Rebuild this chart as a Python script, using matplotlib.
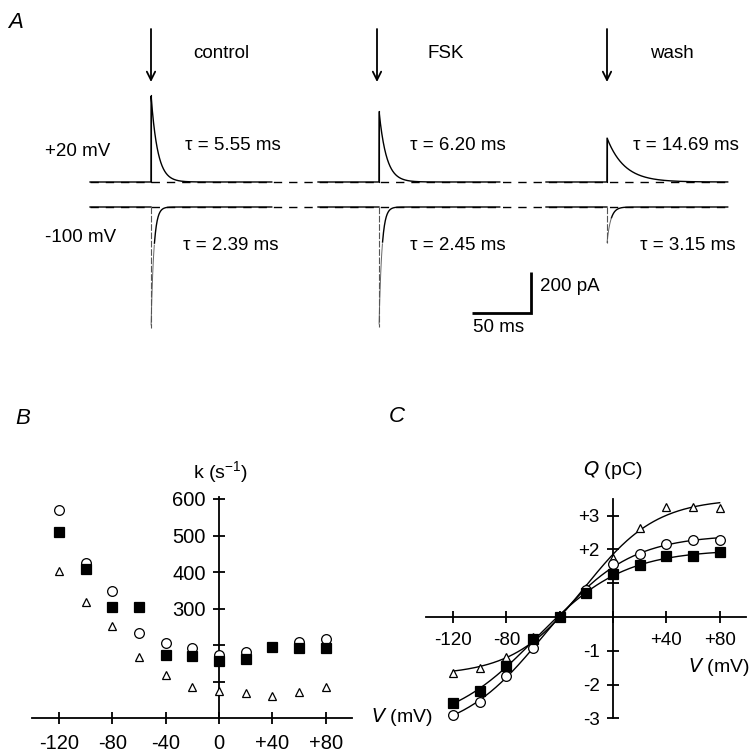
import numpy as np
import matplotlib
matplotlib.use("Agg")
import matplotlib.pyplot as plt

plt.rcParams['font.family'] = ['Liberation Sans', 'DejaVu Sans']
plt.rcParams['mathtext.default'] = 'regular'

W, H = 753, 756
fig = plt.figure(figsize=(W / 100, H / 100), dpi=100)

# ---------------- data ----------------
# Panel A: conditions, time constants (ms), peak amplitudes (pA)
conditions = ["control", "FSK", "wash"]
tau_pos = [5.55, 6.20, 14.69]      # +20 mV
tau_neg = [2.39, 2.45, 3.15]       # -100 mV
amp_pos = [424, 346, 215]          # pA, +20 mV peak
amp_neg = [-590, -585, -176]       # pA, -100 mV peak
seg_start_ms = [76.3, 269.5, 462.7]
seg_len_ms = 154.0
spike_delay_ms = 51.7

# Panel B: rate constant k (s^-1) vs V (mV)
V = [-120, -100, -80, -60, -40, -20, 0, 20, 40, 60, 80]
k_circle = [570, 425, 348, 233, 205, 192, 173, 181, 195, 208, 216]
k_square = [510, 408, 304, 304, 173, 170, 156, 161, 194, 192, 192]
k_triangle = [403, 318, 252, 168, 118, 86, 75, 68, 61, 71, 85]

# Panel C: charge Q (pC) vs V (mV)
q_circle = [-2.90, -2.50, -1.74, -0.92, 0.0, 0.79, 1.56, 1.85, 2.17, 2.29, 2.29]
q_square = [-2.54, -2.18, -1.44, -0.65, 0.0, 0.70, 1.26, 1.53, 1.80, 1.80, 1.91]
q_triangle = [-1.65, -1.50, -1.18, -0.60, 0.0, 0.85, 1.76, 2.62, 3.24, 3.24, 3.22]

B_xticks = [-120, -80, -40, 0, 40, 80]
B_xticklabels = ["-120", "-80", "-40", "0", "+40", "+80"]
B_yticks = [100, 200, 300, 400, 500, 600]
B_yticklabels = ["", "", "300", "400", "500", "600"]
C_xticks = [-120, -80, -40, 0, 40, 80]
C_xticklabels = ["-120", "-80", "", "", "+40", "+80"]
C_yticks = [-3, -2, -1, 1, 2, 3]
C_yticklabels = ["-3", "-2", "-1", "", "+2", "+3"]


def px(x, y):
    return (x / W, 1 - y / H)


def axes_from_px(x0, x1, y_top, y_bot):
    return fig.add_axes([x0 / W, 1 - y_bot / H, (x1 - x0) / W, (y_bot - y_top) / H])


# ---------------- Panel A ----------------
PX_PER_MS = 1.18
PX_PER_PA = 0.205
axA = axes_from_px(0, W, 0, 360)
axA.set_xlim(0, W / PX_PER_MS)
base_pos_px = 182
base_neg_px = 207
axA.set_ylim(-(360 - base_pos_px) / PX_PER_PA, base_pos_px / PX_PER_PA)
axA.axis("off")
off_neg = -(base_neg_px - base_pos_px) / PX_PER_PA

# dashed zero lines
t_all0 = seg_start_ms[0]
t_all1 = 729 / PX_PER_MS
for off in (0.0, off_neg):
    axA.plot([t_all0, t_all1], [off, off], color="black", lw=1.0,
             dashes=(6, 5), zorder=1)

for i in range(3):
    t = np.linspace(0, seg_len_ms, 1200)
    ts = t - spike_delay_ms
    pos = np.where(ts >= 0, amp_pos[i] * np.exp(-np.clip(ts, 0, None) / tau_pos[i]), 0.0)
    neg = np.where(ts >= 0, amp_neg[i] * np.exp(-np.clip(ts, 0, None) / tau_neg[i]), 0.0)
    tt = seg_start_ms[i] + t
    axA.plot(tt, pos, color="black", lw=1.0, zorder=2)
    # negative trace: fast part drawn faint, rest solid
    fast = (ts >= 0) & (ts < 1.2 * tau_neg[i])
    slow = ~fast
    axA.plot(np.where(slow, tt, np.nan), neg + off_neg, color="black", lw=1.0, zorder=2)
    axA.plot(tt[fast], neg[fast] + off_neg, color="#666666", lw=0.7, zorder=2)
    # vertical onset lines
    tsp = seg_start_ms[i] + spike_delay_ms
    axA.plot([tsp, tsp], [0, amp_pos[i]], color="black", lw=0.8, zorder=2)
    axA.plot([tsp, tsp], [off_neg, off_neg + amp_neg[i]], color="#555555",
             lw=0.8, dashes=(6, 1.5), zorder=2)

# scale bar: 50 ms, 200 pA
sb_x1 = 531 / PX_PER_MS
sb_y0 = -(313 - base_pos_px) / PX_PER_PA
axA.plot([sb_x1 - 50, sb_x1, sb_x1], [sb_y0, sb_y0, sb_y0 + 200], color="black",
         lw=2.0, solid_joinstyle="miter", solid_capstyle="butt")

fs = 13.5
fig.text(*px(8, 23), "A", fontsize=16, style="italic", va="center", ha="left")
arrow_x = [151, 377, 607]
label_x = [193, 427, 650]
for ax_, lx, lab in zip(arrow_x, label_x, conditions):
    fig.add_artist(matplotlib.patches.FancyArrowPatch(
        px(ax_, 29), px(ax_, 82), transform=fig.transFigure,
        arrowstyle="->,head_length=6,head_width=3", lw=1.3, color="black",
        mutation_scale=1, shrinkA=0, shrinkB=0))
    fig.text(*px(lx, 54), lab, fontsize=fs, va="center", ha="left")

fig.text(*px(45, 152), "+20 mV", fontsize=fs, va="center", ha="left")
fig.text(*px(45, 238), "-100 mV", fontsize=fs, va="center", ha="left")
tau_pos_x = [185, 410, 633]
tau_neg_x = [183, 410, 640]
for i in range(3):
    fig.text(*px(tau_pos_x[i], 145), "\u03c4 = %.2f ms" % tau_pos[i], fontsize=fs,
             va="center", ha="left")
    fig.text(*px(tau_neg_x[i], 246), "\u03c4 = %.2f ms" % tau_neg[i], fontsize=fs,
             va="center", ha="left")
fig.text(*px(540, 286), "200 pA", fontsize=fs, va="center", ha="left")
fig.text(*px(473, 328), "50 ms", fontsize=fs, va="center", ha="left")

# ---------------- helpers for B & C ----------------
mk = dict(color="black", markeredgecolor="black", markeredgewidth=0.9, linestyle="none")


def style_cross_axes(ax, xb, yb, xticks, xtl, yticks, ytl, fsz):
    for s in ("top", "right"):
        ax.spines[s].set_visible(False)
    ax.spines["left"].set_position(("data", 0))
    ax.spines["bottom"].set_position(("data", 0))
    ax.spines["left"].set_bounds(*yb)
    ax.spines["bottom"].set_bounds(*xb)
    for s in ("left", "bottom"):
        ax.spines[s].set_linewidth(1.3)
    ax.set_xticks(xticks)
    ax.set_xticklabels(xtl)
    ax.set_yticks(yticks)
    ax.set_yticklabels(ytl)
    ax.tick_params(axis="both", direction="inout", length=9, width=1.3,
                   labelsize=fsz, pad=5)
    ax.patch.set_alpha(0)


# ---------------- Panel B ----------------
PX_PER_MV = 53.33 / 40
PX_PER_K = 219 / 600
x0B = 219
axB = axes_from_px(x0B - 160 * PX_PER_MV, x0B + 112 * PX_PER_MV,
                   718 - 640 * PX_PER_K, 718 + 20 * PX_PER_K)
axB.set_xlim(-160, 112)
axB.set_ylim(-20, 640)
style_cross_axes(axB, (-140, 100), (0, 605), B_xticks, B_xticklabels,
                 B_yticks, B_yticklabels, 14.5)
axB.plot(V, k_circle, marker="o", markersize=7, markerfacecolor="white", zorder=3, **mk)
axB.plot(V, k_square, marker="s", markersize=7.5, markerfacecolor="black", zorder=4, **mk)
axB.plot(V, k_triangle, marker="^", markersize=6, markerfacecolor="white", zorder=3, **mk)
axB.tick_params(axis="x", pad=7)
fig.text(*px(15, 418), "B", fontsize=16, style="italic", va="center", ha="left")
fig.text(*px(220, 472), "k (s$^{-1}$)", fontsize=14, va="center", ha="center")
fig.text(*px(371, 717), "$\\it{V}$ (mV)", fontsize=14, va="center", ha="left")

# ---------------- Panel C ----------------
PX_PER_Q = 33.8
x0C = 613
axC = axes_from_px(x0C - 150 * PX_PER_MV, x0C + 104 * PX_PER_MV,
                   617 - 3.8 * PX_PER_Q, 617 + 3.3 * PX_PER_Q)
axC.set_xlim(-150, 104)
axC.set_ylim(-3.3, 3.8)
style_cross_axes(axC, (-140, 100), (-3, 3.5), C_xticks, C_xticklabels,
                 C_yticks, C_yticklabels, 13.5)


def boltzmann_fit(v, q):
    v = np.asarray(v, float)
    q = np.asarray(q, float)
    best = None
    for vh in np.arange(-80, 20.01, 0.5):
        for kk in np.arange(5, 60.01, 0.5):
            s = 1 / (1 + np.exp(-(v - vh) / kk))
            A = np.column_stack([np.ones_like(s), s])
            coef, *_ = np.linalg.lstsq(A, q, rcond=None)
            r = np.sum((A @ coef - q) ** 2)
            if best is None or r < best[0]:
                best = (r, vh, kk, coef)
    _, vh, kk, coef = best
    return lambda x: coef[0] + coef[1] / (1 + np.exp(-(x - vh) / kk))


vv = np.linspace(-120, 80, 300)
for q, m, ms, fc, z in ((q_triangle, "^", 6, "white", 3), (q_circle, "o", 7, "white", 3),
                        (q_square, "s", 7, "black", 4)):
    f = boltzmann_fit(V, q)
    axC.plot(vv, f(vv), color="black", lw=1.0, zorder=2)
    axC.plot(V, q, marker=m, markersize=ms, markerfacecolor=fc, zorder=z, **mk)
axC.tick_params(axis="x", pad=6)
fig.text(*px(389, 416), "C", fontsize=16, style="italic", va="center", ha="left")
fig.text(*px(613, 470), "$\\it{Q}$ (pC)", fontsize=14, va="center", ha="center")
fig.text(*px(688, 667), "$\\it{V}$ (mV)", fontsize=14, va="center", ha="left")

fig.savefig("out.png", dpi=100)
